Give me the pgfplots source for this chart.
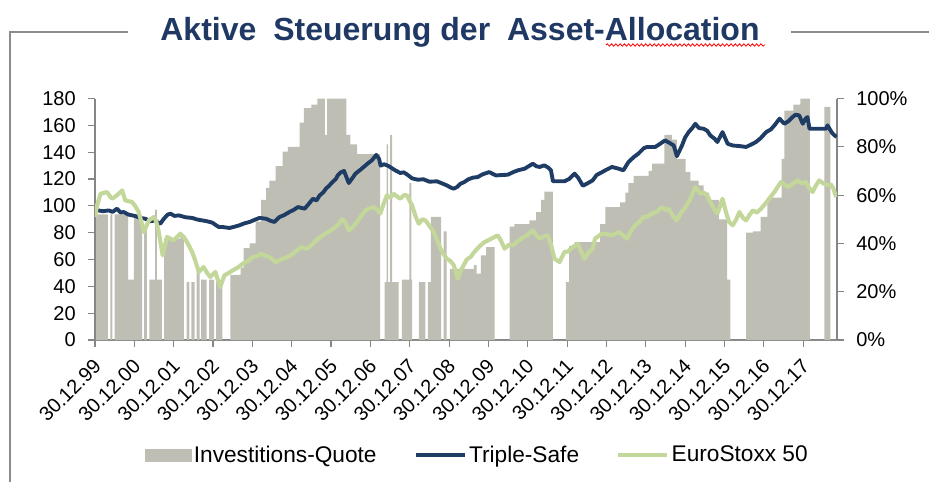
\documentclass[border=0pt]{standalone}
\usepackage{fontspec}
\setmainfont{Liberation Sans}
\usepackage{pgfplots}
\pgfplotsset{compat=1.18}
\usetikzlibrary{decorations.pathmorphing}

\definecolor{barcol}{HTML}{BEBEB4}
\definecolor{navycol}{HTML}{1F3C64}
\definecolor{greencol}{HTML}{C4D79B}
\definecolor{titlecol}{HTML}{1F3864}
\definecolor{axcol}{HTML}{868686}
\definecolor{framecol}{HTML}{8C8C8C}

% Investitions-Quote in %, value holds until the next date
\pgfplotstableread{
x y
2000.00 52
2000.33 0
2000.39 52
2000.44 0
2000.50 52
2000.84 25
2000.99 51
2001.20 0
2001.25 46
2001.32 0
2001.38 25
2001.53 54
2001.57 25
2001.70 0
2001.76 42
2002.17 43
2002.26 0
2002.33 24
2002.40 0
2002.45 24
2002.53 0
2002.58 30
2002.66 0
2002.70 25
2002.84 0
2002.90 25
2003.03 0
2003.08 24
2003.24 0
2003.44 27
2003.70 30
2003.78 38
2003.93 40
2004.08 49
2004.22 58
2004.35 63
2004.43 66
2004.59 72
2004.77 78
2004.90 80
2005.20 90
2005.31 96
2005.50 97.5
2005.65 100
2005.84 85
2005.90 100
2006.39 85
2006.49 81
2006.66 77
2007.25 0
2007.36 24
2007.41 81
2007.45 24
2007.50 85
2007.55 24
2007.72 0
2007.80 25
2007.99 65
2008.04 25
2008.06 0
2008.23 24
2008.40 0
2008.46 24
2008.54 51
2008.80 0
2008.86 45
2008.94 0
2009.02 29.5
2009.63 31
2009.70 27.5
2009.81 35
2009.94 38.5
2010.16 0
2010.54 47
2010.66 48
2011.04 49.5
2011.21 53
2011.34 58
2011.42 61.5
2011.64 0
2011.97 24
2012.05 39
2012.19 40.5
2012.84 48
2012.97 55
2013.35 57
2013.48 61
2013.56 65
2013.69 68
2014.07 70
2014.16 73
2014.47 85
2014.66 83
2014.79 75
2015.01 69.5
2015.13 66
2015.34 64
2015.47 61
2015.61 58
2015.86 50
2016.07 25
2016.15 0
2016.55 44.5
2016.72 45
2016.92 51
2017.09 59
2017.45 75
2017.52 95
2017.75 97.5
2017.93 100
2018.17 0
2018.54 96.5
2018.69 0
2018.86 0
}\quote

\pgfplotstableread{
x y
2000.00 96
2000.09 96.6
2000.20 96
2000.35 96.6
2000.45 95.5
2000.56 97.9
2000.65 95
2000.73 95.4
2000.85 93.5
2001.03 92.4
2001.15 91
2001.28 90.4
2001.40 88.5
2001.53 89.2
2001.60 87.5
2001.66 86.7
2001.75 90.4
2001.85 93.5
2001.92 94.2
2002.02 92.5
2002.13 92.9
2002.30 91.5
2002.47 91
2002.60 89.8
2002.72 89.2
2002.85 88.5
2002.98 87.5
2003.08 85.5
2003.15 84.2
2003.25 84.2
2003.42 83.5
2003.55 84.5
2003.67 85.5
2003.80 87
2003.93 88
2004.05 89.5
2004.18 91
2004.35 90.4
2004.45 89
2004.56 88
2004.69 91.7
2004.80 93
2004.94 95.4
2005.05 97
2005.16 99.1
2005.33 97.9
2005.42 101
2005.54 105.3
2005.63 104
2005.71 107.8
2005.80 110
2005.87 112.8
2005.95 115
2006.04 117.8
2006.12 120
2006.17 122.7
2006.25 125
2006.33 126
2006.45 117
2006.55 121
2006.62 124
2006.75 127
2006.83 129
2006.95 132
2007.04 134
2007.15 138
2007.22 135
2007.26 130
2007.35 131
2007.46 129.7
2007.55 128
2007.63 126.5
2007.76 124.5
2007.85 125
2007.95 123
2008.06 120.5
2008.20 119.5
2008.35 119.8
2008.50 118
2008.69 118.3
2008.80 117
2008.94 115.3
2009.05 113.5
2009.12 112.8
2009.20 114
2009.29 116.5
2009.39 117.8
2009.49 119.8
2009.60 121
2009.73 121.5
2009.85 123.5
2010.02 125.2
2010.10 124
2010.19 122.7
2010.35 123
2010.49 123.2
2010.62 125
2010.75 126.5
2010.92 127.7
2011.02 129.5
2011.13 131.4
2011.22 129.5
2011.30 129
2011.42 130.2
2011.52 128.5
2011.59 126.5
2011.64 118.3
2011.93 118.3
2012.05 120
2012.19 124
2012.28 121
2012.40 115
2012.50 116.5
2012.65 119
2012.75 123
2012.88 125
2012.97 126.5
2013.14 129
2013.31 127.7
2013.43 126.5
2013.56 132.7
2013.70 136.5
2013.81 138.9
2013.95 143
2014.03 143.9
2014.24 143.9
2014.35 146
2014.49 148.8
2014.60 147
2014.71 145
2014.79 137
2014.92 145
2015.00 151
2015.09 155
2015.18 158
2015.26 161.2
2015.35 158
2015.47 157.5
2015.56 156
2015.64 152.5
2015.75 150
2015.82 147.6
2015.95 155
2016.08 146.3
2016.21 145
2016.40 144.5
2016.55 143.9
2016.70 146
2016.80 147.6
2016.92 150.5
2017.06 155
2017.18 157
2017.27 160
2017.40 165
2017.52 161.2
2017.62 163
2017.73 166.2
2017.81 168
2017.90 167.4
2017.99 161.2
2018.06 165
2018.11 166.2
2018.16 157.5
2018.40 157.5
2018.58 157.5
2018.62 160
2018.70 156
2018.75 153.8
2018.85 151.3
}\triple

\pgfplotstableread{
x y
2000.00 91.7
2000.05 100
2000.14 109
2000.30 110.3
2000.43 105.3
2000.52 107
2000.60 109
2000.69 111.5
2000.77 104
2000.94 102.9
2001.02 100
2001.11 95.4
2001.18 88
2001.24 80.5
2001.37 89.2
2001.50 91.7
2001.56 88
2001.62 80.5
2001.67 72
2001.72 63.1
2001.83 76.8
2002.00 74.3
2002.17 79.3
2002.25 77
2002.34 73
2002.47 65.6
2002.55 59
2002.64 50.7
2002.76 54.4
2002.85 50
2002.93 47
2003.06 50.7
2003.12 45
2003.18 39.5
2003.29 48.2
2003.40 50
2003.50 51.9
2003.63 54
2003.76 56.9
2003.90 59
2004.01 61.9
2004.12 62.5
2004.22 64.3
2004.35 62.5
2004.43 61.9
2004.60 58.1
2004.77 60.6
2004.90 62
2005.03 64.3
2005.15 67
2005.24 69.3
2005.35 68
2005.45 69.3
2005.55 72
2005.62 74.3
2005.79 78
2005.90 80
2006.00 81.7
2006.10 84
2006.17 85.5
2006.28 90
2006.36 88
2006.45 81.7
2006.55 84
2006.66 88
2006.78 93
2006.87 96.6
2006.97 98
2007.08 99.1
2007.18 97
2007.25 94.2
2007.33 101
2007.42 107.8
2007.50 106
2007.59 109
2007.68 107
2007.76 105.3
2007.85 108
2007.93 107.8
2008.01 103
2008.06 100.4
2008.15 92
2008.23 86.7
2008.32 90
2008.40 89.2
2008.50 85
2008.61 80.5
2008.70 74
2008.78 68.1
2008.86 64
2008.94 60.6
2009.03 59
2009.12 55.7
2009.18 50
2009.22 45.7
2009.30 52
2009.37 55.7
2009.45 60
2009.55 62
2009.64 65.6
2009.78 70
2009.90 73
2010.07 75.5
2010.24 78
2010.32 74
2010.41 68.1
2010.52 71
2010.62 70.6
2010.72 73
2010.83 75.5
2010.98 78
2011.13 81.7
2011.22 78
2011.30 75.5
2011.40 77
2011.51 78
2011.60 70
2011.68 60.6
2011.81 58.1
2011.93 65.6
2012.02 66
2012.10 68.1
2012.27 71.8
2012.36 66
2012.44 60.6
2012.55 65.6
2012.65 68.1
2012.71 75.5
2012.88 79.3
2013.00 79
2013.14 78
2013.31 80.5
2013.42 78
2013.52 75.5
2013.62 81
2013.73 85.5
2013.84 88
2013.94 91.7
2014.05 92
2014.16 94.2
2014.30 96
2014.41 99.1
2014.50 97
2014.58 97.9
2014.68 93
2014.79 89.2
2014.90 95
2015.01 99.1
2015.13 105.3
2015.20 110
2015.26 114
2015.33 111
2015.39 109
2015.47 110
2015.56 107.8
2015.64 103
2015.73 97.9
2015.82 94.2
2015.88 99
2015.95 105.3
2016.05 94
2016.12 88
2016.21 85.5
2016.30 90
2016.38 95.4
2016.47 91
2016.55 89.2
2016.63 93
2016.72 96.6
2016.82 95
2016.93 97.9
2017.02 101
2017.10 104
2017.18 107
2017.27 110.3
2017.35 114
2017.44 117.8
2017.52 116
2017.61 114
2017.72 116
2017.86 119
2017.96 117
2018.07 117.8
2018.16 113
2018.24 110.3
2018.32 115
2018.41 119
2018.50 117
2018.62 115.3
2018.70 116
2018.77 112.8
2018.84 106.6
}\stoxx

\pgfplotsset{
  base/.style={
    scale only axis, width=556.5pt, height=181.1pt,
    at={(71.25pt,-255pt)}, anchor=south west,
    xmin=2000, xmax=2018.86,
    axis line style={axcol, line width=0.8pt},
    tick style={axcol, line width=0.8pt},
    major tick length=5pt, tick align=outside,
    tick label style={font=\fontsize{15}{18}\selectfont, text=black},
    /pgf/number format/assume math mode=true,
  }
}

\begin{document}
\begin{tikzpicture}[x=0.75pt,y=0.75pt]
\path[use as bounding box] (0,0) rectangle (929,-482);

% frame and title
\draw[framecol, line width=1.3pt] (128,-32) -- (10,-32) -- (10,-482);
\draw[framecol, line width=1.3pt] (791,-32) -- (929,-32);
\node[anchor=base, text=titlecol, font=\fontsize{24}{28}\bfseries] at (460,-40)
  {Aktive\hspace{0.25em} Steuerung der\hspace{0.25em} Asset-Allocation};
\draw[red, line width=0.6pt, decorate, decoration={snake, amplitude=0.9pt, segment length=3.2pt}]
  (606,-45) -- (765,-45);

% bars, right axis
\begin{axis}[base,
  ymin=0, ymax=100,
  axis x line*=bottom, axis y line*=right,
  ytick={0,20,...,100},
  yticklabel={\pgfmathprintnumber{\tick}\%},
  yticklabel style={xshift=6pt},
  xtick={2000,...,2018},
  xticklabels={30.12.99,30.12.00,30.12.01,30.12.02,30.12.03,30.12.04,30.12.05,30.12.06,30.12.07,30.12.08,30.12.09,30.12.10,30.12.11,30.12.12,30.12.13,30.12.14,30.12.15,30.12.16,30.12.17},
  xticklabel style={xshift=2pt, yshift=-12pt, rotate=45, anchor=east, inner sep=0pt},
]
\addplot[const plot, fill=barcol, draw=none] table {\quote} \closedcycle;
\end{axis}

% lines, left axis
\begin{axis}[base,
  ymin=0, ymax=180,
  axis y line*=left, axis x line=none,
  ytick={0,20,...,180},
  yticklabel style={xshift=-6pt},
  legend image code/.code={\draw[#1, line width=2.4pt] (0pt,0pt) -- (37pt,0pt);},
  legend style={at={(0.516,-0.476)}, anchor=center, draw=none, fill=none,
    legend columns=3, font=\fontsize{17}{20}\selectfont,
    /tikz/every even column/.append style={column sep=26pt}},
  legend cell align=left,
]
\addlegendimage{legend image code/.code={\fill[barcol] (0pt,-4.5pt) rectangle (34pt,4.5pt);}}
\addlegendentry{Investitions-Quote}
\addplot[navycol, line width=2.9pt, line join=round] table {\triple};
\addlegendentry{Triple-Safe}
\addplot[greencol, line width=3.1pt, line join=round] table {\stoxx};
\addlegendentry{EuroStoxx 50}
\end{axis}
\end{tikzpicture}
\end{document}
